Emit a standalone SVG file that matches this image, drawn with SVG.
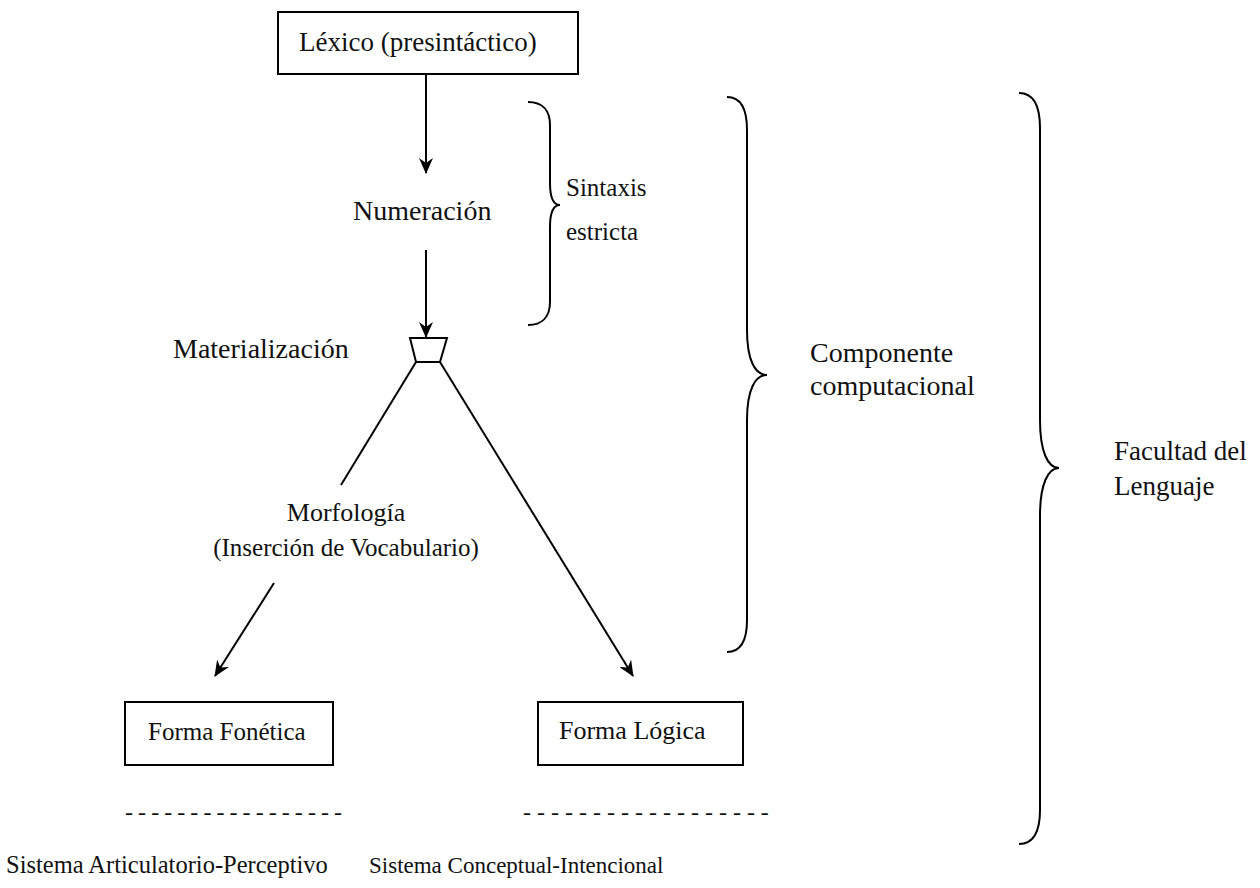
<svg xmlns="http://www.w3.org/2000/svg" width="1260" height="888" viewBox="0 0 1260 888">
<style>
text{font-family:"Liberation Serif","DejaVu Serif",serif;font-size:26px;fill:#111}
.box{fill:#fff;stroke:#000;stroke-width:2}
.ln{fill:none;stroke:#000;stroke-width:2}
.br{fill:none;stroke:#000;stroke-width:2}
</style>
<defs>
<marker id="ah" markerWidth="16" markerHeight="14" refX="15" refY="7" orient="auto" markerUnits="userSpaceOnUse">
<path d="M0,0 L16,7 L0,14 L5,7 z" fill="#000"/>
</marker>
</defs>
<rect width="1260" height="888" fill="#fff"/>
<g id="connectors">
<line class="ln" x1="426" y1="74" x2="426" y2="173" marker-end="url(#ah)"/>
<line class="ln" x1="426" y1="250" x2="426" y2="337" marker-end="url(#ah)"/>
<line class="ln" x1="416" y1="362" x2="341" y2="485"/>
<line class="ln" x1="440" y1="362" x2="633" y2="676" marker-end="url(#ah)"/>
<line class="ln" x1="274" y1="583" x2="215" y2="676" marker-end="url(#ah)"/>
</g>
<g id="lexico">
<rect class="box" x="278" y="12" width="300" height="62"/>
<text x="299" y="51" style="font-size:27px">Léxico (presintáctico)</text>
</g>
<g id="numeracion">
<text x="353" y="220" style="font-size:28px">Numeración</text>
</g>
<g id="materializacion">
<polygon class="ln" points="410,338 447,338 440,362 416,362"/>
<text x="173" y="358" style="font-size:28px">Materialización</text>
</g>
<g id="morfologia">
<text x="346" y="521" text-anchor="middle">Morfología</text>
<text x="346" y="556" text-anchor="middle" style="font-size:25px">(Inserción de Vocabulario)</text>
</g>
<g id="forma-fonetica">
<rect class="box" x="125" y="702" width="208" height="63"/>
<text x="148" y="740" style="font-size:25px">Forma Fonética</text>
<text x="125" y="820" style="font-size:24px" textLength="217">- - - - - - - - - - - - - - - - -</text>
<text x="6" y="873" style="font-size:24.5px">Sistema Articulatorio-Perceptivo</text>
</g>
<g id="forma-logica">
<rect class="box" x="538" y="702" width="205" height="63"/>
<text x="559" y="739" style="font-size:26px">Forma Lógica</text>
<text x="523" y="820" style="font-size:24px">- - - - - - - - - - - - - - - - - -</text>
<text x="369" y="873" style="font-size:23px">Sistema Conceptual-Intencional</text>
</g>
<g id="sintaxis-estricta">
<path class="br" d="M528,102 C542,102 550,110 550,125 L550,183 C550,198 553,205 560,205 C553,205 550,212 550,227 L550,302 C550,317 542,325 528,325"/>
<text x="566" y="196" style="font-size:25px">Sintaxis</text>
<text x="566" y="240" style="font-size:25px">estricta</text>
</g>
<g id="componente-computacional">
<path class="br" d="M727,97 C740,97 747,108 747,130 L747,330 C747,360 755,375 767,375 C755,375 747,390 747,420 L747,620 C747,642 740,652 727,652"/>
<text x="810" y="362" style="font-size:28px">Componente</text>
<text x="810" y="395" style="font-size:28px">computacional</text>
</g>
<g id="facultad">
<path class="br" d="M1019,93 C1032,93 1040,104 1040,128 L1040,420 C1040,452 1048,468 1059,468 C1048,468 1040,484 1040,516 L1040,810 C1040,834 1032,844 1019,844"/>
<text x="1114" y="460" style="font-size:27px">Facultad del</text>
<text x="1114" y="495" style="font-size:27px">Lenguaje</text>
</g>
</svg>
